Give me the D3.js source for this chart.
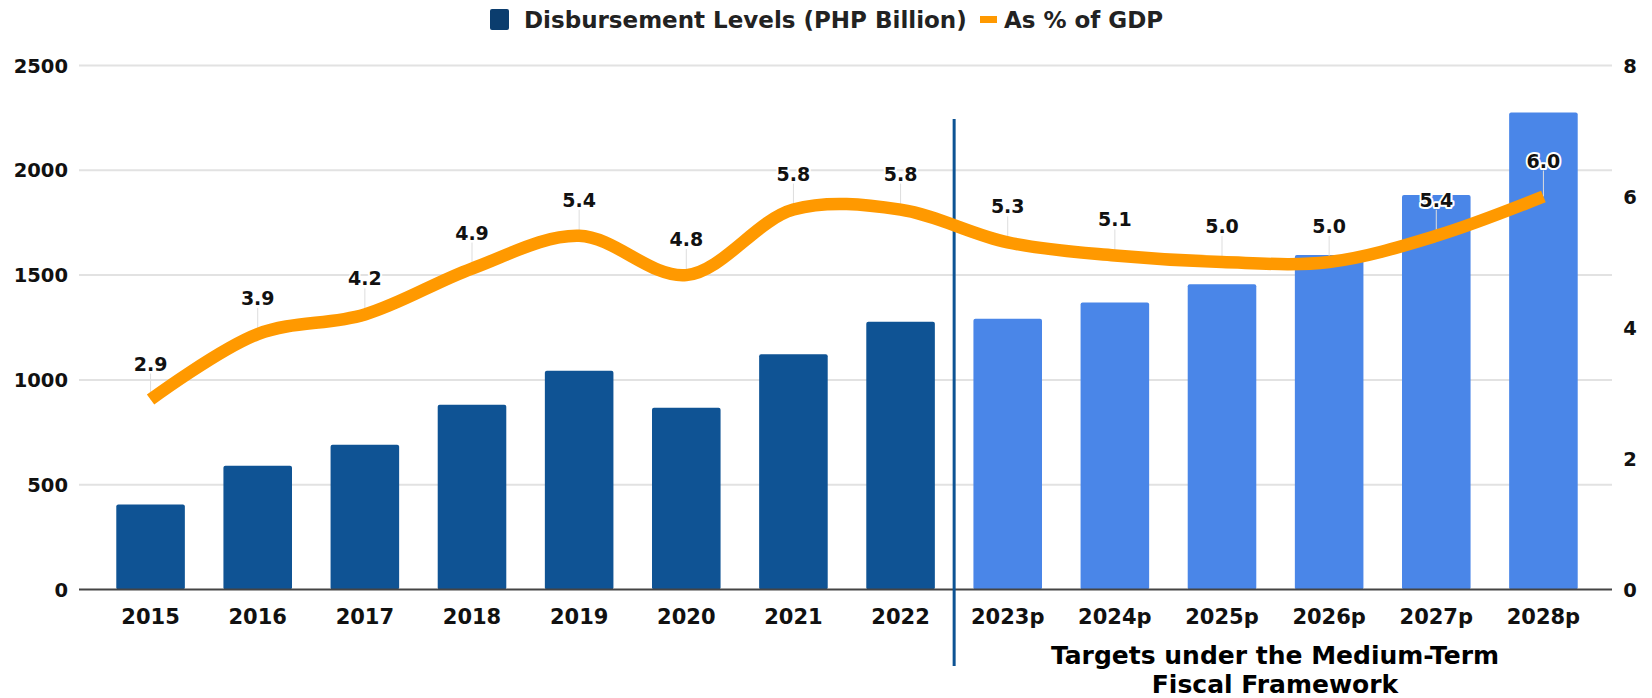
<!DOCTYPE html>
<html>

<head>
  <title>Disbursement Levels</title>

  <style>
    body,
    html {
      margin: 0;
      padding: 0;
      background: #fff;
    }

    text {
      font-family: "DejaVu Sans", Verdana, sans-serif;
      font-weight: bold;
    }
  </style>
</head>

<body>

  <svg id="svg" width="1652" height="698"></svg>

  <script src="https://d3js.org/d3.v7.min.js"></script>
  <script>
    const years = ["2015", "2016", "2017", "2018", "2019", "2020", "2021", "2022",
      "2023p", "2024p", "2025p", "2026p", "2027p", "2028p"]
    const disbursement = [405, 591, 691, 882, 1044, 867, 1122, 1277,
      1292, 1369, 1456, 1596, 1882, 2276]
    const gdpShare = [2.9, 3.9, 4.2, 4.9, 5.4, 4.8, 5.8, 5.8,
      5.3, 5.1, 5.0, 5.0, 5.4, 6.0]
    const leftTicks = [0, 500, 1000, 1500, 2000, 2500]
    const rightTicks = [0, 2, 4, 6, 8]
    const firstProjected = "2023p"
    const seriesNames = ["Disbursement Levels (PHP Billion)", "As % of GDP"]
    const noteLines = ["Targets under the Medium-Term", "Fiscal Framework"]

    const svg = d3.select("#svg")

    const gridLeft = 79, gridRight = 1612
    const plotTop = 65.5, plotBottom = 589.5

    const xScale = d3.scaleBand()
      .domain(years)
      .range([97, 1597])
      .paddingInner(0.36)
      .paddingOuter(0.18)

    const yLeft = d3.scaleLinear()
      .domain([0, 2500])
      .range([plotBottom, plotTop])

    const yRight = d3.scaleLinear()
      .domain([0, 8])
      .range([plotBottom, plotTop])

    // grid lines
    svg.append("g")
      .selectAll("line")
      .data(leftTicks.slice(1))
      .join("line")
      .attr("x1", gridLeft)
      .attr("x2", gridRight)
      .attr("y1", d => yLeft(d))
      .attr("y2", d => yLeft(d))
      .attr("stroke", "#e2e2e2")
      .attr("stroke-width", 2)

    // left axis labels
    svg.append("g")
      .selectAll("text")
      .data(leftTicks)
      .join("text")
      .attr("x", 68)
      .attr("y", d => yLeft(d))
      .attr("dy", "0.36em")
      .attr("text-anchor", "end")
      .attr("font-size", 19.5)
      .attr("fill", "#111")
      .text(d => d)

    // right axis labels
    svg.append("g")
      .selectAll("text")
      .data(rightTicks)
      .join("text")
      .attr("x", 1630)
      .attr("y", d => yRight(d))
      .attr("dy", "0.36em")
      .attr("text-anchor", "middle")
      .attr("font-size", 19.5)
      .attr("fill", "#111")
      .text(d => d)

    // bars
    const projIndex = years.indexOf(firstProjected)
    svg.append("g")
      .selectAll("rect")
      .data(years)
      .join("rect")
      .attr("x", d => xScale(d))
      .attr("y", (d, i) => yLeft(disbursement[i]))
      .attr("width", xScale.bandwidth())
      .attr("height", (d, i) => yLeft(0) - yLeft(disbursement[i]))
      .attr("rx", 2)
      .attr("fill", (d, i) => i >= projIndex ? "#4a86e8" : "#0f5394")

    // baseline
    svg.append("line")
      .attr("x1", gridLeft)
      .attr("x2", gridRight)
      .attr("y1", yLeft(0))
      .attr("y2", yLeft(0))
      .attr("stroke", "#444")
      .attr("stroke-width", 2)

    // x labels
    svg.append("g")
      .selectAll("text")
      .data(years)
      .join("text")
      .attr("x", d => xScale(d) + xScale.bandwidth() / 2)
      .attr("y", 616)
      .attr("dy", "0.36em")
      .attr("text-anchor", "middle")
      .attr("font-size", 21)
      .attr("fill", "#111")
      .text(d => d)

    // separator between actual and projected
    const sepX = (xScale("2022") + xScale.bandwidth() + xScale(firstProjected)) / 2
    svg.append("line")
      .attr("x1", sepX)
      .attr("x2", sepX)
      .attr("y1", 119)
      .attr("y2", 666)
      .attr("stroke", "#0d5394")
      .attr("stroke-width", 3)

    const cx = d => xScale(d) + xScale.bandwidth() / 2

    // leader lines
    svg.append("g")
      .selectAll("line")
      .data(years)
      .join("line")
      .attr("x1", d => cx(d))
      .attr("x2", d => cx(d))
      .attr("y1", (d, i) => yRight(gdpShare[i]) - 26)
      .attr("y2", (d, i) => yRight(gdpShare[i]))
      .attr("stroke", "#ddd")
      .attr("stroke-width", 1)

    // % of GDP line
    const lineGen = d3.line()
      .x((d, i) => cx(years[i]))
      .y(d => yRight(d))
      .curve(d3.curveCatmullRom.alpha(0.5))

    svg.append("path")
      .attr("d", lineGen(gdpShare))
      .attr("stroke", "#ff9900")
      .attr("stroke-width", 12.5)
      .attr("fill", "none")

    // value labels
    svg.append("g")
      .selectAll("text")
      .data(years)
      .join("text")
      .attr("x", d => cx(d))
      .attr("y", (d, i) => yRight(gdpShare[i]) - 29)
      .attr("text-anchor", "middle")
      .attr("font-size", 19)
      .attr("fill", "#111")
      .attr("stroke", "#fff")
      .attr("stroke-width", 4)
      .attr("stroke-linejoin", "round")
      .attr("paint-order", "stroke")
      .text((d, i) => gdpShare[i].toFixed(1))

    // legend
    const legend = svg.append("g")
    legend.append("rect")
      .attr("x", 490)
      .attr("y", 9)
      .attr("width", 19)
      .attr("height", 21)
      .attr("rx", 2)
      .attr("fill", "#0b3d6e")
    legend.append("text")
      .attr("x", 524)
      .attr("y", 20)
      .attr("dy", "0.36em")
      .attr("font-size", 23)
      .attr("fill", "#222")
      .text(seriesNames[0])
    legend.append("rect")
      .attr("x", 980)
      .attr("y", 16)
      .attr("width", 17)
      .attr("height", 7)
      .attr("fill", "#ff9900")
    legend.append("text")
      .attr("x", 1004)
      .attr("y", 20)
      .attr("dy", "0.36em")
      .attr("font-size", 23)
      .attr("fill", "#222")
      .text(seriesNames[1])

    // note under projected years
    svg.append("g")
      .selectAll("text")
      .data(noteLines)
      .join("text")
      .attr("x", 1275)
      .attr("y", (d, i) => 664 + i * 29)
      .attr("text-anchor", "middle")
      .attr("font-family", "'Open Sans', sans-serif")
      .attr("font-weight", 700)
      .attr("font-size", 25)
      .attr("fill", "#000")
      .text(d => d)

  </script>
</body>

</html>
